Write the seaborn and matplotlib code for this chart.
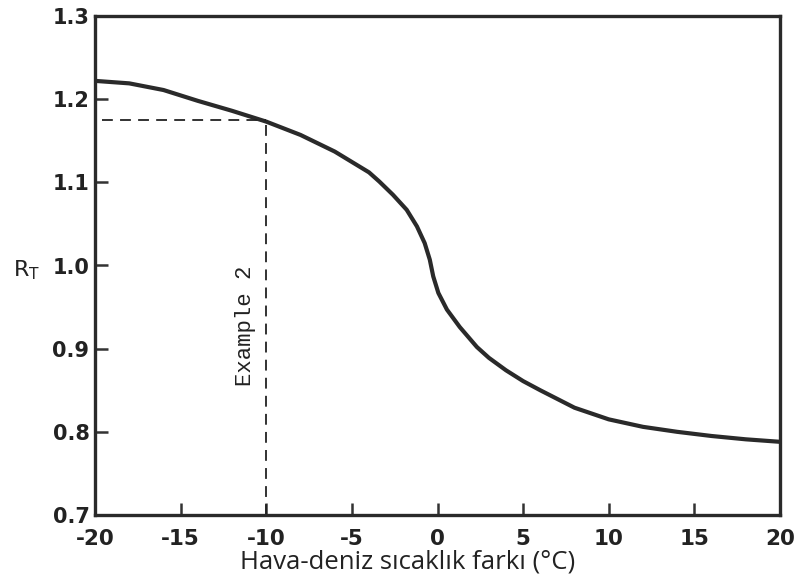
import matplotlib
matplotlib.use("Agg")
import matplotlib.pyplot as plt
import seaborn as sns
import pandas as pd

# Data
temp_diff = [-20, -18, -16, -14, -12, -10, -8, -6, -4, -3.4, -2.6, -1.8, -1.2,
             -0.75, -0.45, -0.25, 0.05, 0.55, 1.3, 2.3, 3, 4, 5, 6, 8, 10, 12,
             14, 16, 18, 20]
r_t = [1.222, 1.219, 1.211, 1.198, 1.186, 1.173, 1.157, 1.137, 1.112, 1.101,
       1.085, 1.067, 1.047, 1.027, 1.007, 0.987, 0.967, 0.947, 0.926, 0.902,
       0.889, 0.874, 0.861, 0.850, 0.829, 0.815, 0.806, 0.800, 0.795, 0.791,
       0.788]
example_x = -10
example_y = 1.175
x_ticks = [-20, -15, -10, -5, 0, 5, 10, 15, 20]
x_tick_labels = ["-20", "-15", "-10", "-5", "0", "5", "10", "15", "20"]
y_ticks = [0.7, 0.8, 0.9, 1.0, 1.1, 1.2, 1.3]
y_tick_labels = ["0.7", "0.8", "0.9", "1.0", "1.1", "1.2", "1.3"]

sns.set_style("ticks")
plt.rcParams["font.family"] = ["DejaVu Sans"]

fig = plt.figure(figsize=(7.96, 5.80), dpi=100)
ax = fig.add_axes([95 / 796, 65 / 580, 685 / 796, 499 / 580])

df = pd.DataFrame({"x": temp_diff, "y": r_t})
sns.lineplot(data=df, x="x", y="y", ax=ax, color="#2a2a2a", linewidth=3.0,
             sort=False, estimator=None)
ax.lines[-1].set_solid_joinstyle("round")

ax.plot([-19.6, example_x], [example_y, example_y], color="#222222",
        linewidth=1.3, dashes=(6, 4))
ax.plot([example_x, example_x], [0.7, example_y], color="#222222",
        linewidth=1.3, dashes=(6, 4))
ax.text(-11.2, 0.928, "Example 2", rotation=90, ha="center", va="center",
        fontsize=16, family="Liberation Mono", color="#222222")

ax.set_xlim(-20, 20)
ax.set_ylim(0.7, 1.3)
ax.set_xticks(x_ticks)
ax.set_xticklabels(x_tick_labels, fontsize=15.5, fontweight="bold", color="#222222")
ax.set_yticks(y_ticks)
ax.set_yticklabels(y_tick_labels, fontsize=15, fontweight="bold", color="#222222")
ax.tick_params(axis="x", direction="in", length=9, width=1.8, pad=10, color="#333333")
ax.tick_params(axis="y", direction="in", length=9, width=1.8, pad=4, color="#333333")

for s in ax.spines.values():
    s.set_visible(True)
    s.set_linewidth(2.4)
    s.set_color("#2a2a2a")

ax.set_xlabel("Hava-deniz sıcaklık farkı (°C)", fontsize=18.5,
              family="Open Sans", color="#222222", va="center")
ax.xaxis.set_label_coords(0.457, -0.094)
ax.set_ylabel(r"R$_{\mathregular{T}}$", rotation=0, fontsize=16,
              color="#222222", va="center", ha="center")
ax.yaxis.set_label_coords(-0.10, 0.49)

fig.savefig("out.png", dpi=100)
